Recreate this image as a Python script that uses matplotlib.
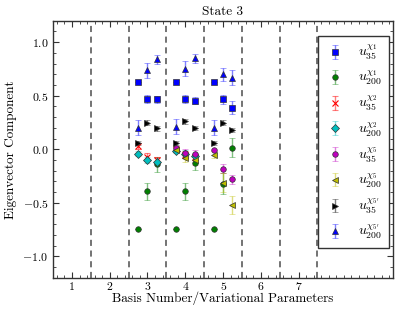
import numpy as np
import matplotlib
matplotlib.use("Agg")
import matplotlib.pyplot as plt

plt.rcParams['font.family'] = ['cmr10', 'DejaVu Serif']
plt.rcParams['mathtext.fontset'] = 'cm'
plt.rcParams['axes.formatter.use_mathtext'] = True
plt.rcParams['axes.unicode_minus'] = True

nan = np.nan
positions = [2.75, 3.0, 3.25, 3.75, 4.0, 4.25, 4.75, 5.0, 5.25]

u35_chi1 = [0.63, 0.47, 0.465, 0.63, 0.47, 0.455, 0.63, 0.465, 0.39]
u35_chi1_err = [0.0, 0.035, 0.035, 0.0, 0.035, 0.035, 0.0, 0.04, 0.06]
u200_chi1 = [-0.74, -0.39, -0.14, -0.74, -0.39, -0.125, -0.74, -0.32, 0.015]
u200_chi1_err = [0.0, 0.08, 0.07, 0.0, 0.08, 0.07, 0.0, 0.10, 0.09]
u35_chi2 = [0.03, -0.07, -0.10, 0.0, -0.05, -0.07, nan, nan, nan]
u35_chi2_err = [0.03, 0.04, 0.03, 0.02, 0.03, 0.03, nan, nan, nan]
u200_chi2 = [-0.04, -0.10, -0.115, -0.015, -0.04, -0.06, nan, nan, nan]
u200_chi2_err = [0.02, 0.03, 0.03, 0.02, 0.03, 0.03, nan, nan, nan]
u35_chi5 = [nan, nan, nan, 0.015, -0.03, -0.04, -0.01, -0.18, -0.28]
u35_chi5_err = [nan, nan, nan, 0.01, 0.03, 0.03, 0.01, 0.04, 0.04]
u200_chi5 = [nan, nan, nan, -0.005, -0.08, -0.10, -0.05, -0.31, -0.52]
u200_chi5_err = [nan, nan, nan, 0.02, 0.04, 0.05, 0.03, 0.09, 0.08]
u35_chi5p = [0.06, 0.25, 0.195, 0.06, 0.26, 0.20, 0.06, 0.25, 0.18]
u35_chi5p_err = [0.02, 0.02, 0.02, 0.02, 0.02, 0.02, 0.02, 0.02, 0.02]
u200_chi5p = [0.20, 0.74, 0.84, 0.21, 0.75, 0.85, 0.20, 0.70, 0.67]
u200_chi5p_err = [0.07, 0.07, 0.04, 0.07, 0.07, 0.04, 0.07, 0.06, 0.07]

labels = [r'$u_{35}^{\chi_1}$', r'$u_{200}^{\chi_1}$', r'$u_{35}^{\chi_2}$', r'$u_{200}^{\chi_2}$',
          r'$u_{35}^{\chi_5}$', r'$u_{200}^{\chi_5}$', r"$u_{35}^{\chi_{5'}}$", r"$u_{200}^{\chi_{5'}}$"]
xtick_labels = ['1', '2', '3', '4', '5', '6', '7']

series = [
    (u35_chi1, u35_chi1_err, 's', (0, 0, 1)),
    (u200_chi1, u200_chi1_err, 'o', (0, 0.5, 0)),
    (u35_chi2, u35_chi2_err, 'x', (1, 0, 0)),
    (u200_chi2, u200_chi2_err, 'D', (0, 0.75, 0.75)),
    (u35_chi5, u35_chi5_err, 'o', (0.75, 0, 0.75)),
    (u200_chi5, u200_chi5_err, '<', (0.75, 0.75, 0)),
    (u35_chi5p, u35_chi5p_err, '>', (0, 0, 0)),
    (u200_chi5p, u200_chi5p_err, '^', (0, 0, 1)),
]

fig = plt.figure(figsize=(3.99, 3.14), dpi=100)
ax = fig.add_axes([0.133, 0.115, 0.852, 0.819])

for xv in np.arange(1.5, 8.0, 1.0):
    ax.axvline(xv, color='0.3', linestyle='--', linewidth=1.1, dashes=(4, 3), zorder=1)

for (vals, errs, mk, col), lab in zip(series, labels):
    ecol = tuple(list(col) + [0.5])
    ax.errorbar(positions, vals, yerr=errs, fmt=mk, color=col, ecolor=ecol,
                markersize=4, markeredgecolor=col if mk == 'x' else '0.2',
                markeredgewidth=0.8 if mk == 'x' else 0.5,
                elinewidth=1.0, capsize=2.5, capthick=1.0, label=lab, zorder=3)

ax.set_xlim(0.5, 9.5)
ax.set_ylim(-1.2, 1.2)
ax.set_xticks(range(1, 8))
ax.set_xticklabels(xtick_labels)
ax.set_xticks(np.arange(0.6, 9.5, 0.2), minor=True)
ax.set_yticks([-1.0, -0.5, 0.0, 0.5, 1.0])
ax.set_yticklabels([r'$-1.0$', r'$-0.5$', r'$0.0$', r'$0.5$', r'$1.0$'])
ax.set_yticks(np.arange(-1.1, 1.2, 0.1), minor=True)
ax.tick_params(which='both', direction='in', top=True, right=True, labelsize=8.5, color='0.2')
ax.tick_params(which='major', length=4, width=0.8)
ax.tick_params(which='minor', length=2, width=0.6)
ax.xaxis.set_tick_params(pad=3)
for sp in ax.spines.values():
    sp.set_linewidth(1.0)
    sp.set_color('0.2')

ax.set_xlabel('Basis Number/Variational Parameters', fontsize=9.5, labelpad=0)
ax.set_ylabel('Eigenvector Component', fontsize=9.5, labelpad=4)
ax.set_title('State 3', fontsize=9.5, pad=4)

leg = ax.legend(loc='upper right', bbox_to_anchor=(0.988, 0.94), borderaxespad=0,
                numpoints=1, fontsize=10,
                frameon=True, fancybox=False, edgecolor='0.2', framealpha=1,
                handlelength=1.5, labelspacing=0.5, borderpad=0.5, handletextpad=0.9)
leg.get_frame().set_linewidth(1.0)

fig.savefig('out.png', dpi=100)
